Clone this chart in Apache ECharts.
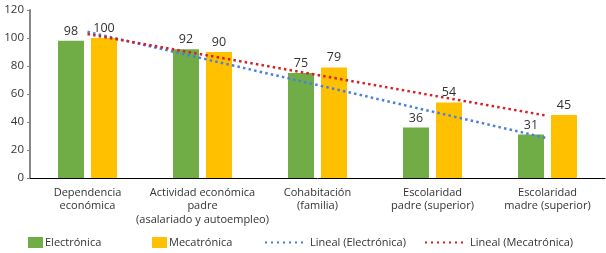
<!DOCTYPE html>
<html>
<head>
<meta charset="utf-8">
<script src="https://cdn.jsdelivr.net/npm/echarts@6/dist/echarts.min.js"></script>
<style>
  html, body { margin: 0; padding: 0; background: #fff; }
  #main { width: 606px; height: 253px; }
</style>
</head>
<body>
<div id="main"></div>
<script>
// categorías del eje x
const categories = [
  'Dependencia\neconómica',
  'Actividad económica\npadre\n(asalariado y autoempleo)',
  'Cohabitación\n(familia)',
  'Escolaridad\npadre (superior)',
  'Escolaridad\nmadre (superior)'
];
const electronica = [98, 92, 75, 36, 31];
const mecatronica = [100, 90, 79, 54, 45];
// líneas de tendencia
const linealElectronica = [104.4, 85.4, 66.4, 47.4, 28.4];
const linealMecatronica = [102.8, 88.2, 73.6, 59.0, 44.4];
const yTicks = [0, 20, 40, 60, 80, 100, 120];

const font = '"Open Sans", "Noto Sans", sans-serif';
const blue = '#4a7fe0';
const red = '#d42027';
// icono punteado para la leyenda de las líneas de tendencia
const dotsIcon = 'path://M0,0h2v2h-2zM6,0h2v2h-2zM12,0h2v2h-2zM18,0h2v2h-2zM24,0h2v2h-2zM30,0h2v2h-2zM36,0h2v2h-2z';
const chart = echarts.init(document.getElementById('main'));

const legendBase = {
  top: 237,
  itemGap: 0,
  padding: 0,
  textStyle: { fontFamily: font, fontSize: 11, color: '#333', padding: [0, 0, 0, -3] },
  selectedMode: false
};

const option = {
  animation: false,
  textStyle: { fontFamily: font },
  grid: { left: 30, right: 1, top: 10, bottom: 75, containLabel: false },
  legend: [
    Object.assign({}, legendBase, { left: 28, data: [{ name: 'Electrónica', icon: 'rect' }], itemWidth: 15, itemHeight: 11 }),
    Object.assign({}, legendBase, { left: 152, data: [{ name: 'Mecatrónica', icon: 'rect' }], itemWidth: 15, itemHeight: 11 }),
    Object.assign({}, legendBase, {
      left: 265, data: [{ name: 'Lineal (Electrónica)', icon: dotsIcon }], itemWidth: 38, itemHeight: 2,
      textStyle: Object.assign({}, legendBase.textStyle, { padding: [0, 0, 0, 2] })
    }),
    Object.assign({}, legendBase, {
      left: 425, data: [{ name: 'Lineal (Mecatrónica)', icon: dotsIcon }], itemWidth: 38, itemHeight: 2,
      textStyle: Object.assign({}, legendBase.textStyle, { padding: [0, 0, 0, 2] })
    })
  ],
  xAxis: {
    type: 'category',
    data: categories,
    axisLine: { lineStyle: { color: '#000', width: 1 } },
    axisTick: { show: false },
    axisLabel: { color: '#333', fontSize: 11, lineHeight: 13.5, margin: 8, interval: 0 }
  },
  yAxis: {
    type: 'value',
    min: 0,
    max: yTicks[yTicks.length - 1],
    interval: 20,
    splitLine: { show: false },
    axisLine: { show: true, lineStyle: { color: '#868686', width: 2 } },
    axisTick: { show: true, length: 3, lineStyle: { color: '#868686' } },
    axisLabel: { color: '#333', fontSize: 11.5, margin: 6 }
  },
  series: [
    {
      name: 'Electrónica',
      type: 'bar',
      data: electronica,
      barWidth: 26,
      barGap: '27%',
      itemStyle: { color: '#70ad47' },
      label: { show: true, position: 'top', distance: 3, color: '#333', fontSize: 12.5 }
    },
    {
      name: 'Mecatrónica',
      type: 'bar',
      data: mecatronica,
      barWidth: 26,
      itemStyle: { color: '#ffc000' },
      label: { show: true, position: 'top', distance: 3, color: '#333', fontSize: 12.5 }
    },
    {
      name: 'Lineal (Electrónica)',
      type: 'line',
      data: linealElectronica,
      symbol: 'none',
      z: 5,
      itemStyle: { color: blue },
      lineStyle: { color: blue, width: 2.5, type: [2.5, 3.2] }
    },
    {
      name: 'Lineal (Mecatrónica)',
      type: 'line',
      data: linealMecatronica,
      symbol: 'none',
      z: 5,
      itemStyle: { color: red },
      lineStyle: { color: red, width: 2.5, type: [2.5, 3.2] }
    }
  ]
};
chart.setOption(option);
</script>
</body>
</html>
